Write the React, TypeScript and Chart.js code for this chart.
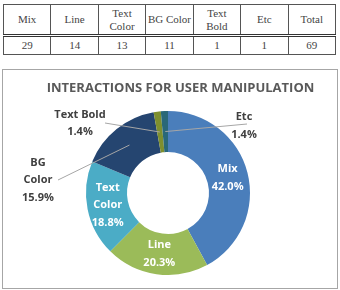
import React, { useEffect, useRef } from "react";
import { Chart, registerables } from "chart.js";

Chart.register(...registerables);

const headerLabels = ["Mix", "Line", "Text\nColor", "BG Color", "Text\nBold", "Etc", "Total"];
const countValues = ["29", "14", "13", "11", "1", "1", "69"];

const categories = ["Mix", "Line", "Text Color", "BG Color", "Text Bold", "Etc"];
const labelLines = [["Mix"], ["Line"], ["Text", "Color"], ["BG", "Color"], ["Text Bold"], ["Etc"]];
const percentValues = [42.0, 20.3, 18.8, 15.9, 1.4, 1.4];
const percentLabels = ["42.0%", "20.3%", "18.8%", "15.9%", "1.4%", "1.4%"];
const sliceColors = ["#4a7ebb", "#9bbb59", "#4bacc6", "#254570", "#7e8f2e", "#2a6878"];
const chartTitle = "INTERACTIONS FOR USER MANIPULATION";

const labelFont = "bold 11px 'Open Sans', 'Noto Sans', sans-serif";

const labelPlugin = {
  id: "sliceLabels",
  afterDatasetsDraw(chart: any) {
    const ctx = chart.ctx as CanvasRenderingContext2D;
    const meta = chart.getDatasetMeta(0);
    ctx.save();
    // title
    ctx.font = "bold 13px 'Open Sans', 'Noto Sans', sans-serif";
    ctx.fillStyle = "#595959";
    ctx.textAlign = "center";
    ctx.textBaseline = "middle";
    ctx.fillText(chartTitle, 177.5, 18);

    ctx.font = labelFont;
    const lineH = 17.5;
    meta.data.forEach((arc: any, i: number) => {
      const lines = [...labelLines[i], percentLabels[i]];
      const p = arc.tooltipPosition();
      if (percentValues[i] > 16.5) {
        ctx.fillStyle = "#ffffff";
        const y0 = p.y - ((lines.length - 1) * lineH) / 2;
        lines.forEach((t, k) => ctx.fillText(t, p.x, y0 + k * lineH));
      } else {
        // outside labels with leader lines
        const cx = arc.x, cy = arc.y;
        let lx = 0, ly = 0, ex = 0, ey = 0;
        if (categories[i] === "BG Color") {
          lx = cx - 130; ly = cy - 13; ex = cx - 110; ey = cy - 13;
        } else if (categories[i] === "Text Bold") {
          lx = cx - 88; ly = cy - 69.5; ex = cx - 63; ey = cy - 70;
        } else {
          lx = cx + 76; ly = cy - 67; ex = cx + 79; ey = cy - 69;
        }
        ctx.strokeStyle = "#a6a6a6";
        ctx.lineWidth = 1;
        ctx.beginPath();
        ctx.moveTo(p.x, p.y);
        ctx.lineTo(ex, ey);
        ctx.stroke();
        ctx.fillStyle = "#404040";
        const y0 = ly - ((lines.length - 1) * lineH) / 2;
        lines.forEach((t, k) => ctx.fillText(t, lx, y0 + k * lineH));
      }
    });
    ctx.restore();
  },
};

function DonutChart() {
  const ref = useRef<HTMLCanvasElement>(null);
  useEffect(() => {
    if (!ref.current) return;
    const chart = new Chart(ref.current, {
      type: "doughnut",
      data: {
        labels: categories,
        datasets: [
          {
            data: percentValues,
            backgroundColor: sliceColors,
            borderWidth: 0,
          },
        ],
      },
      options: {
        animation: false,
        responsive: false,
        cutout: "50%",
        layout: { padding: { top: 41, bottom: 13, left: 83, right: 87 } },
        plugins: {
          legend: { display: false },
          title: { display: false },
          tooltip: { enabled: false },
        },
      },
      plugins: [labelPlugin],
    });
    return () => chart.destroy();
  }, []);
  return <canvas ref={ref} width={334} height={218} style={{ display: "block", width: 334, height: 218 }} />;
}

const cellStyle: React.CSSProperties = {
  border: "1px solid #555",
  textAlign: "center",
  padding: 0,
  color: "#444",
  whiteSpace: "pre",
  lineHeight: "13px",
};

export default function App() {
  useEffect(() => {
    document.body.style.margin = "0";
  }, []);
  return (
    <div style={{ position: "relative", width: 340, height: 290, background: "#fff", fontFamily: "'Liberation Serif', serif", fontSize: 11 }}>
      <table
        style={{
          position: "absolute",
          left: 3,
          top: 4,
          width: 333,
          borderCollapse: "collapse",
          tableLayout: "fixed",
          fontSize: 11,
        }}
      >
        <tbody>
          <tr style={{ height: 31 }}>
            {headerLabels.map((h, i) => (
              <td key={i} style={{ ...cellStyle, borderBottom: "3px double #333" }}>
                {h}
              </td>
            ))}
          </tr>
          <tr style={{ height: 19 }}>
            {countValues.map((v, i) => (
              <td key={i} style={cellStyle}>
                {v}
              </td>
            ))}
          </tr>
        </tbody>
      </table>
      <div style={{ position: "absolute", left: 2, top: 69, width: 334, height: 218, border: "1px solid #a6a6a6" }}>
        <DonutChart />
      </div>
    </div>
  );
}
